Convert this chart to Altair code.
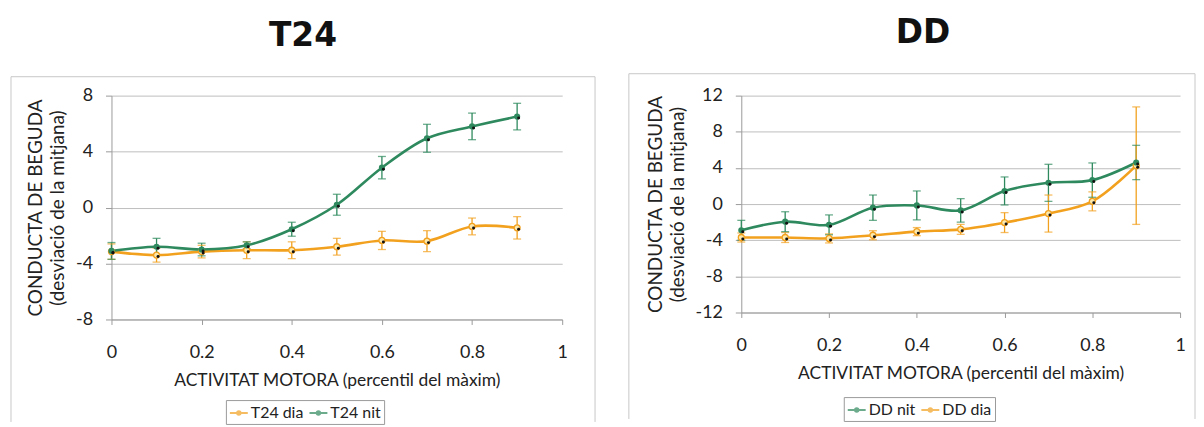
import altair as alt
import pandas as pd

# ---- data ----
x_vals = [0.0, 0.1, 0.2, 0.3, 0.4, 0.5, 0.6, 0.7, 0.8, 0.9]

t24_dia = [-3.15, -3.4, -3.15, -3.05, -3.05, -2.8, -2.35, -2.4, -1.35, -1.45]
t24_dia_err = [0.55, 0.5, 0.45, 0.6, 0.6, 0.6, 0.65, 0.75, 0.6, 0.8]
t24_nit = [-3.1, -2.8, -3.0, -2.7, -1.55, 0.2, 2.85, 4.95, 5.8, 6.5]
t24_nit_err = [0.6, 0.6, 0.45, 0.25, 0.5, 0.75, 0.8, 1.0, 0.95, 0.95]

dd_nit = [-2.9, -1.95, -2.3, -0.4, -0.15, -0.7, 1.45, 2.35, 2.65, 4.6]
dd_nit_err = [1.1, 1.1, 1.1, 1.4, 1.6, 1.3, 1.55, 2.05, 1.9, 1.9]
dd_dia = [-3.7, -3.7, -3.8, -3.45, -3.05, -2.8, -2.05, -1.05, 0.3, 4.25]
dd_dia_err = [0.5, 0.55, 0.5, 0.5, 0.45, 0.55, 1.1, 2.05, 1.05, 6.5]

x_ticks = [0, 0.2, 0.4, 0.6, 0.8, 1]
y_ticks_t24 = [-8, -4, 0, 4, 8]
y_ticks_dd = [-12, -8, -4, 0, 4, 8, 12]

x_title = "ACTIVITAT MOTORA (percentil del màxim)"
y_title = ["CONDUCTA DE BEGUDA", "(desviació de la mitjana)"]

ORANGE = "#F2A11F"
GREEN = "#2E8A5E"
LIGHT = "#FCE9AE"
FONT = "Lato"
FRAME = "#c8c8c8"

SYMBOL = ("M-1,0H1M0.19,0A0.19,0.19,0,1,1,-0.19,0A0.19,0.19,0,1,1,0.19,0Z")


def make_df(series):
    rows = []
    for name, vals, errs in series:
        for xv, v, e in zip(x_vals, vals, errs):
            rows.append(dict(x=xv, y=v, lo=v - e, hi=v + e, serie=name))
    return pd.DataFrame(rows)


def panel(title, series, domain, yticks, width, height, frame, legend_xy,
          title_dx, order, colors):
    df = make_df(series)
    L, R, T, B = frame
    xaxis = alt.Axis(values=x_ticks, format=".1~f", title=x_title, grid=False,
                     tickSize=5, labelPadding=19, titlePadding=10,
                     labelFlush=False, titleFontSize=17.5,
                     domainColor="#9a9a9a", tickColor="#9a9a9a")
    yaxis = alt.Axis(values=yticks, title=y_title, grid=True,
                     labelExpr="'' + datum.value",
                     gridColor="#bdbdbd", tickSize=6, labelPadding=13,
                     titlePadding=8, titleLineHeight=22,
                     domainColor="#9a9a9a", tickColor="#9a9a9a")
    xs = alt.Scale(domain=[0, 1], nice=False)
    ys = alt.Scale(domain=domain, nice=False)
    X = alt.X("x:Q", scale=xs, axis=xaxis, title=x_title)
    cscale = alt.Scale(domain=order, range=colors)
    legend = alt.Legend(
        orient="none", legendX=legend_xy[0], legendY=legend_xy[1],
        direction="horizontal", title=None, strokeColor="#9a9a9a", padding=3,
        labelFont=FONT, labelFontSize=16, labelColor="#222",
        symbolType=SYMBOL, symbolSize=324, symbolStrokeWidth=2,
        columnPadding=2, labelOffset=2)
    C = alt.Color("serie:N", scale=cscale, sort=order, legend=legend)

    fdf = pd.DataFrame({"k": [0]})
    fbase = alt.Chart(fdf)
    f_top = fbase.mark_rule(color=FRAME, strokeWidth=1).encode(
        x=alt.value(L), x2=alt.value(R), y=alt.value(T))
    f_left = fbase.mark_rule(color=FRAME, strokeWidth=1).encode(
        x=alt.value(L), y=alt.value(T), y2=alt.value(B))
    f_right = fbase.mark_rule(color=FRAME, strokeWidth=1).encode(
        x=alt.value(R), y=alt.value(T), y2=alt.value(B))

    base = alt.Chart(df)
    err = base.mark_rule(strokeWidth=1.3).encode(
        x=X, y=alt.Y("lo:Q", scale=ys, axis=yaxis, title=y_title),
        y2="hi:Q", color=C)
    cap_hi = base.mark_tick(orient="horizontal", size=8, thickness=1.3).encode(
        x=X, y=alt.Y("hi:Q", scale=ys, axis=yaxis, title=y_title), color=C)
    cap_lo = base.mark_tick(orient="horizontal", size=8, thickness=1.3).encode(
        x=X, y=alt.Y("lo:Q", scale=ys, axis=yaxis, title=y_title), color=C)
    Y = alt.Y("y:Q", scale=ys, axis=yaxis, title=y_title)
    line = base.mark_line(interpolate="catmull-rom", strokeWidth=2.6).encode(
        x=X, y=Y, color=C)
    pts_g = base.transform_filter(alt.datum.serie == order[colors.index(GREEN)]).mark_circle(
        size=38, opacity=1, color=GREEN).encode(x=X, y=Y)
    pts_o = base.transform_filter(alt.datum.serie == order[colors.index(ORANGE)]).mark_point(
        shape="circle", filled=True, fill=LIGHT, stroke=ORANGE, strokeWidth=1.3,
        size=36, opacity=1).encode(x=X, y=Y)
    dots = base.mark_circle(size=9, color="#111", opacity=1,
                            xOffset=1.5, yOffset=1.5).encode(x=X, y=Y)

    return alt.layer(f_top, f_left, f_right, err, cap_hi, cap_lo, line,
                     pts_o, pts_g, dots).properties(
        width=width, height=height,
        title=alt.TitleParams(title, fontSize=33, font="DejaVu Sans",
                              fontWeight="bold", anchor="middle",
                              frame="bounds", offset=23, dx=title_dx,
                              color="#111"))


left = panel("T24",
             [("T24 dia", t24_dia, t24_dia_err), ("T24 nit", t24_nit, t24_nit_err)],
             [-8, 8], y_ticks_t24, 453, 225, (-101, 486, -19, 328), (115, 306),
             0, ["T24 dia", "T24 nit"], [ORANGE, GREEN])
right = panel("DD",
              [("DD nit", dd_nit, dd_nit_err), ("DD dia", dd_dia, dd_dia_err)],
              [-12, 12], y_ticks_dd, 441, 218, (-113, 456, -22, 325), (103, 303),
              11, ["DD nit", "DD dia"], [GREEN, ORANGE])

chart = alt.hconcat(left, right, spacing=32).resolve_scale(
    color="independent", x="independent", y="independent"
).resolve_legend(color="independent").properties(
    padding={"left": 2, "top": 8, "right": 0, "bottom": 0}
).configure_view(stroke=None).configure_axis(
    labelFont=FONT, titleFont=FONT, labelFontSize=18, titleFontSize=19,
    labelColor="#222", titleColor="#222", titleFontWeight="normal"
)

chart.save("out.html", embed_options={"renderer": "svg", "actions": False})
